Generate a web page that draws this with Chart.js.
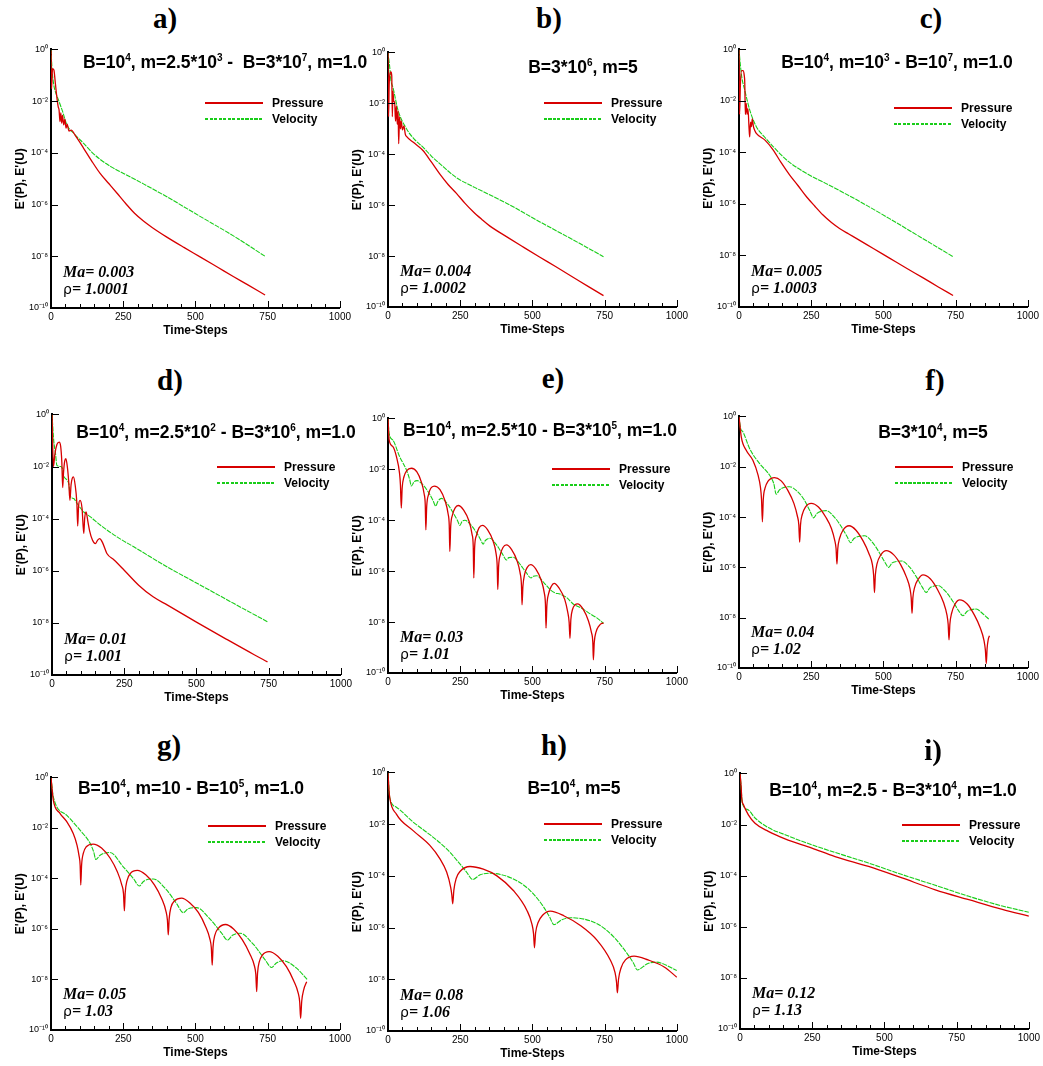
<!DOCTYPE html>
<html>
<head>
<meta charset="utf-8">
<script src="https://cdn.jsdelivr.net/npm/chart.js@4.4.1/dist/chart.umd.min.js"></script>
<style>
  body { margin: 0; background: #fff; width: 1043px; height: 1066px; position: relative; overflow: hidden;
         font-family: "Liberation Sans", Arial, sans-serif; color: #000; }
  canvas { position: absolute; }
  .lbl { position: absolute; font-family: "Liberation Serif", "Times New Roman", serif; font-weight: bold;
         font-size: 29px; transform: translate(-50%, -50%); white-space: nowrap; }
  .sub { position: absolute; font-weight: bold; font-size: 17.5px; white-space: nowrap; transform: translate(-50%, -50%); }
  .sub sup { font-size: 10px; vertical-align: 7px; line-height: 0; }
  .legline { position: absolute; width: 58px; }
  .legtxt { position: absolute; font-weight: bold; font-size: 12px; transform: translateY(-50%); white-space: nowrap; }
  .ma { position: absolute; font-family: "Liberation Serif", "Times New Roman", serif; font-weight: bold;
        font-style: italic; font-size: 16px; white-space: nowrap; transform: translateY(-50%); }
  .ma .rho { font-style: normal; font-weight: normal; font-family: "DejaVu Sans", sans-serif; font-size: 14px; }
</style>
</head>
<body>
<script>
// ================= DATA (time step, error) =================
const xTicks = [0, 250, 500, 750, 1000];
const yTicks = [1, 1e-2, 1e-4, 1e-6, 1e-8, 1e-10];

const presA = [[0,0.9],[2,3e-2],[5,0.18],[10,0.16],[15,5e-2],[20,1.5e-2],[25,6e-3],[28,4.5e-3],[31,1.6e-3],[34,3.5e-3],[37,1.4e-3],[40,2.8e-3],[44,1.2e-3],[48,2e-3],[52,9e-4],[56,1.3e-3],[62,7e-4],[70,7.5e-4],[85,4.5e-4],[113,1.5e-4],[140,5e-5],[170,1.6e-5],[200,6.5e-6],[228,2.8e-6],[260,1.05e-6],[290,4.5e-7],[320,2.3e-7],[350,1.3e-7],[401,5.5e-8],[460,2.2e-8],[516,9.5e-9],[580,3.6e-9],[631,1.66e-9],[680,8e-10],[741,3.2e-10]];
const veloA = [[0,1],[4,0.15],[10,4e-2],[17,2e-2],[26,1.1e-2],[40,4e-3],[55,1.2e-3],[80,5.5e-4],[113,2.3e-4],[140,1.1e-4],[170,5.6e-5],[210,2.8e-5],[251,1.6e-5],[320,6.3e-6],[401,2e-6],[516,3.5e-7],[630,6.3e-8],[741,1e-8]];

const presB = [[0,1],[2,3e-3],[4,5e-2],[7,0.15],[10,0.17],[13,0.12],[15,3e-3],[17,3e-2],[20,1.2e-2],[23,1.1e-2],[26,2e-3],[29,8e-3],[32,1.5e-3],[35,5e-3],[37,2.6e-4],[40,3e-3],[43,1e-3],[46,2e-3],[50,9e-4],[55,1.3e-3],[60,6e-4],[64,5e-4],[90,2.8e-4],[121,1.4e-4],[150,5e-5],[179,1.7e-5],[208,6.5e-6],[237,2.9e-6],[266,1.2e-6],[295,5.5e-7],[324,2.8e-7],[353,1.5e-7],[410,5.8e-8],[470,2.2e-8],[526,9e-9],[580,3.9e-9],[642,1.45e-9],[694,6.3e-10],[720,4.2e-10],[746,2.8e-10]];
const veloB = [[0,1],[6,0.26],[10,8e-2],[17,4.3e-2],[35,5.2e-3],[64,1e-3],[90,4e-4],[121,1.9e-4],[150,8.5e-5],[179,4.3e-5],[237,1.2e-5],[300,5e-6],[410,1.2e-6],[526,2.2e-7],[640,4.4e-8],[746,9.5e-9]];

const presC = [[0,1],[2,3e-3],[5,5e-2],[9,0.15],[14,0.15],[18,0.1],[20,5e-2],[22,3e-3],[25,8e-3],[28,3e-3],[31,5e-3],[35,8e-4],[37,4e-4],[40,1.5e-3],[43,1e-3],[46,2e-3],[50,1e-3],[55,7e-4],[60,5.5e-4],[90,3e-4],[118,1.26e-4],[146,4e-5],[175,1.35e-5],[204,5.2e-6],[233,1.95e-6],[262,8.3e-7],[290,3.8e-7],[320,1.9e-7],[348,1.12e-7],[380,6.8e-8],[406,4.6e-8],[465,1.86e-8],[521,7.9e-9],[580,3.2e-9],[636,1.38e-9],[690,6e-10],[741,2.8e-10]];
const veloC = [[0,1],[4,0.3],[10,8e-2],[20,2.6e-2],[37,4.5e-3],[60,1e-3],[90,3.8e-4],[118,1.7e-4],[146,8e-5],[175,4.1e-5],[233,1.55e-5],[300,6.3e-6],[406,1.48e-6],[521,2.7e-7],[630,5e-8],[741,9e-9]];

const presD = [[0,1],[5,1e-2],[10,3e-2],[17,7e-2],[25,8.7e-2],[30,6e-2],[34,1.5e-2],[37,1.55e-3],[40,6e-3],[44,1.6e-2],[48,2e-2],[53,1e-2],[58,2.5e-3],[62,5e-4],[66,2e-3],[70,3.5e-3],[74,4e-3],[80,2e-3],[86,4e-4],[89,5.2e-5],[92,3e-4],[97,5e-4],[104,2.5e-4],[110,2.7e-5],[113,1e-4],[118,1.8e-4],[124,8e-5],[130,3.5e-5],[140,1.5e-5],[150,1.1e-5],[158,1.5e-5],[165,1.7e-5],[175,1.2e-5],[190,4.6e-6],[215,2.6e-6],[250,1.05e-6],[300,2.8e-7],[350,1e-7],[400,4.8e-8],[500,1.07e-8],[600,2.5e-9],[700,6e-10],[746,3.2e-10]];
const veloD = [[0,1],[6,0.1],[12,3.2e-2],[17,1.1e-2],[30,1e-2],[35,9e-3],[40,4.6e-3],[52,3e-3],[58,2.2e-3],[64,7e-4],[75,5.9e-4],[87,3.8e-4],[110,1.8e-4],[133,1.17e-4],[168,5.6e-5],[225,2e-5],[283,8.3e-6],[399,1.4e-6],[514,2.8e-7],[630,5.5e-8],[746,1.1e-8]];

const presE = [[0,1],[4,0.14],[17,7.8e-2],[29,3.2e-2],[40,6.9e-3],[43,2.5e-3],[46,3e-4],[49,1.8e-3],[55,5e-3],[65,8.9e-3],[81,1.1e-2],[100,7.9e-3],[115,3.3e-3],[125,1.1e-3],[129,4e-4],[131,4.2e-5],[134,3.5e-4],[140,1e-3],[148,1.8e-3],[160,2.2e-3],[180,1.6e-3],[198,5.6e-4],[208,1.8e-4],[212,6.3e-5],[214,5.9e-6],[217,5.6e-5],[223,1.6e-4],[232,3e-4],[243,3.8e-4],[262,2.5e-4],[281,8.9e-5],[291,2.8e-5],[295,1e-5],[297,5.4e-7],[300,8.9e-6],[306,2.5e-5],[315,5e-5],[327,6.3e-5],[345,4.2e-5],[364,1.5e-5],[374,5e-6],[378,1.6e-6],[380,1.9e-7],[383,1.6e-6],[389,4.5e-6],[398,8.5e-6],[410,1.07e-5],[428,7e-6],[447,2.5e-6],[457,8.9e-7],[462,2.8e-7],[464,4.8e-8],[467,2.5e-7],[473,7.6e-7],[482,1.4e-6],[494,1.8e-6],[512,1.2e-6],[531,4.2e-7],[541,1.4e-7],[545,5e-8],[547,5.8e-9],[550,4.5e-8],[556,1.3e-7],[565,2.5e-7],[575,3.3e-7],[593,2.1e-7],[612,7.6e-8],[622,2.5e-8],[627,1e-8],[630,2.3e-9],[633,1.26e-8],[639,3.2e-8],[647,4.7e-8],[656,5.2e-8],[675,3.3e-8],[694,1.1e-8],[704,4e-9],[709,1.6e-9],[711,3.3e-10],[714,1.6e-9],[720,4e-9],[730,7e-9],[740,8.9e-9],[746,9e-9]];
const veloE = [[0,1],[4,0.25],[17,0.14],[40,3.2e-2],[64,9.3e-3],[75,4e-3],[81,2.2e-3],[90,3.2e-3],[101,3.6e-3],[120,2.5e-3],[140,1.26e-3],[155,6.3e-4],[165,3.6e-4],[173,5.6e-4],[185,7.2e-4],[205,4.5e-4],[225,2e-4],[240,1e-4],[249,6.3e-5],[256,8.9e-5],[266,1e-4],[288,6.3e-5],[310,2.8e-5],[322,1.6e-5],[329,1.15e-5],[337,1.6e-5],[353,1.95e-5],[375,1.1e-5],[395,5e-6],[410,2.75e-6],[418,3.4e-6],[434,3.5e-6],[455,2e-6],[478,8.9e-7],[495,5.4e-7],[503,6.3e-7],[514,6.6e-7],[540,3.5e-7],[563,1.8e-7],[578,1.4e-7],[595,1.26e-7],[620,8.9e-8],[642,5e-8],[660,4e-8],[676,3.2e-8],[700,2.1e-8],[725,1.4e-8],[746,9e-9]];

const presF = [[0,1],[8,0.15],[25,4.5e-2],[48,1.8e-2],[66,4.6e-3],[74,1.6e-3],[78,5e-4],[81,6.5e-5],[84,5e-4],[90,1.4e-3],[100,2.6e-3],[123,3.7e-3],[145,2.8e-3],[170,1.1e-3],[190,3.5e-4],[202,1.1e-4],[207,5e-5],[210,1e-5],[213,5e-5],[219,1.26e-4],[230,2.5e-4],[250,3.5e-4],[275,2.5e-4],[300,1e-4],[320,3.5e-5],[332,1.1e-5],[336,5.6e-6],[339,1.35e-6],[342,5.6e-6],[348,1.4e-5],[360,3e-5],[381,4.5e-5],[405,3e-5],[430,1.1e-5],[450,3.5e-6],[462,1.26e-6],[466,5e-7],[469,1e-7],[472,5e-7],[478,1.4e-6],[490,3e-6],[510,4.6e-6],[535,3.2e-6],[560,1.26e-6],[580,4e-7],[592,1.4e-7],[596,6.3e-8],[599,1.5e-8],[602,6.3e-8],[608,1.6e-7],[620,3.3e-7],[637,5e-7],[662,3.5e-7],[688,1.26e-7],[708,4e-8],[720,1.26e-8],[724,5.6e-9],[727,1.3e-9],[730,5.6e-9],[736,1.5e-8],[748,3.5e-8],[764,5.1e-8],[790,3.5e-8],[815,1.26e-8],[835,4e-9],[848,1.26e-9],[853,5e-10],[856,1.5e-10],[859,6.3e-10],[863,1.4e-9],[867,1.9e-9]];
const veloF = [[0,1],[5,0.35],[14,0.24],[37,5.2e-2],[72,1.3e-2],[106,4.6e-3],[120,2.2e-3],[129,8.1e-4],[140,1.2e-3],[155,1.5e-3],[175,1.6e-3],[200,1.1e-3],[225,5e-4],[245,1.8e-4],[258,9.3e-5],[270,1.4e-4],[285,1.7e-4],[302,1.8e-4],[330,1e-4],[355,4e-5],[375,1.6e-5],[386,9.5e-6],[398,1.4e-5],[415,1.7e-5],[435,1.8e-5],[460,1.05e-5],[485,4e-6],[505,1.6e-6],[518,1e-6],[530,1.5e-6],[545,1.7e-6],[562,1.8e-6],[590,1.05e-6],[615,4e-7],[635,1.6e-7],[648,1e-7],[660,1.5e-7],[675,1.8e-7],[689,1.9e-7],[715,1.1e-7],[740,4.5e-8],[760,1.9e-8],[775,1.2e-8],[790,1.8e-8],[805,2.1e-8],[821,2.2e-8],[845,1.4e-8],[867,8.3e-9]];

const presG = [[0,1],[8,0.126],[31,3.8e-2],[54,1.8e-2],[77,6e-3],[90,2.1e-3],[97,8e-4],[101,3.2e-4],[103,5.5e-5],[106,3.5e-4],[112,1e-3],[122,1.8e-3],[146,2.3e-3],[175,1.6e-3],[205,6.3e-4],[230,1.8e-4],[245,5.6e-5],[251,2.5e-5],[254,5.2e-6],[257,2.8e-5],[263,8e-5],[275,1.6e-4],[299,2.1e-4],[328,1.4e-4],[358,5.6e-5],[383,1.6e-5],[398,5e-6],[403,2.2e-6],[406,5.8e-7],[409,2.5e-6],[415,7e-6],[427,1.26e-5],[452,1.66e-5],[480,1.1e-5],[510,4.5e-6],[535,1.26e-6],[550,4e-7],[555,1.8e-7],[558,3.7e-8],[561,2e-7],[567,5.6e-7],[579,1.05e-6],[604,1.5e-6],[632,1e-6],[662,3.8e-7],[688,1.05e-7],[704,3.5e-8],[709,1.6e-8],[712,3.3e-9],[715,1.8e-8],[721,5e-8],[732,9.3e-8],[755,1.26e-7],[785,8.3e-8],[815,3.2e-8],[840,8.9e-9],[856,2.8e-9],[861,1.26e-9],[864,2.9e-10],[868,1.4e-9],[875,4e-9],[885,8.1e-9]];
const veloG = [[0,1],[8,0.17],[54,3.2e-2],[100,8.3e-3],[135,2.5e-3],[148,1.1e-3],[155,5.6e-4],[170,8.3e-4],[204,1.07e-3],[250,2.9e-4],[285,1e-4],[306,5e-5],[320,7.6e-5],[354,9.5e-5],[400,3.5e-5],[435,1e-5],[458,4.4e-6],[475,6.3e-6],[504,7e-6],[550,2.5e-6],[590,7e-7],[611,3.6e-7],[628,5.6e-7],[654,6.8e-7],[700,2.5e-7],[740,6.3e-8],[764,3e-8],[780,4.5e-8],[804,5.5e-8],[850,2.8e-8],[887,1e-8]];

const presH = [[0,1],[3,0.25],[6,0.107],[29,2.45e-2],[87,5.6e-3],[145,1.5e-3],[180,4.5e-4],[203,1.4e-4],[217,3.6e-5],[221,1.8e-5],[224,8.3e-6],[228,2.8e-5],[236,7.9e-5],[250,1.5e-4],[284,2.3e-4],[330,1.8e-4],[377,1e-4],[434,2.7e-5],[481,4.6e-6],[498,1.4e-6],[504,5.6e-7],[507,1.66e-7],[511,6.3e-7],[520,1.6e-6],[535,3e-6],[562,4.3e-6],[610,2.8e-6],[666,1.2e-6],[724,3.2e-7],[770,5.4e-8],[786,1.8e-8],[791,7.9e-9],[794,3e-9],[798,1e-8],[807,2.8e-8],[822,5.6e-8],[852,7.9e-8],[900,5.6e-8],[956,3e-8],[1000,1.2e-8]];
const veloH = [[0,1],[6,0.107],[29,4.5e-2],[87,1.2e-2],[145,3.9e-3],[203,1.1e-3],[249,2.9e-4],[272,1.4e-4],[293,7.2e-5],[319,1.1e-4],[353,1.26e-4],[434,7.6e-5],[492,2.7e-5],[539,6.2e-6],[560,2.5e-6],[574,1.3e-6],[602,2e-6],[631,2.4e-6],[724,1.4e-6],[782,4.3e-7],[828,9.8e-8],[850,4.2e-8],[863,2.3e-8],[898,4e-8],[927,4.6e-8],[1000,2.2e-8]];

const presI = [[0,1],[4,0.3],[6,0.107],[12,5.9e-2],[29,2.4e-2],[52,1.12e-2],[98,5.4e-3],[156,2.75e-3],[249,1.2e-3],[329,5.6e-4],[445,2.3e-4],[561,8.1e-5],[676,2.8e-5],[792,1.15e-5],[908,4.8e-6],[1000,2.6e-6]];
const veloI = [[0,1],[3,0.4],[6,0.12],[8,6.8e-2],[29,3.7e-2],[52,1.8e-2],[98,7.6e-3],[156,4e-3],[249,1.6e-3],[329,8.1e-4],[445,3.1e-4],[561,1.1e-4],[676,4.2e-5],[792,1.55e-5],[908,6.5e-6],[1000,3.7e-6]];

const panelLetters = ['a)', 'b)', 'c)', 'd)', 'e)', 'f)', 'g)', 'h)', 'i)'];
const subtitles = [
  'B=10<sup>4</sup>, m=2.5*10<sup>3</sup> -&nbsp; B=3*10<sup>7</sup>, m=1.0',
  'B=3*10<sup>6</sup>, m=5',
  'B=10<sup>4</sup>, m=10<sup>3</sup> - B=10<sup>7</sup>, m=1.0',
  'B=10<sup>4</sup>, m=2.5*10<sup>2</sup> - B=3*10<sup>6</sup>, m=1.0',
  'B=10<sup>4</sup>, m=2.5*10 - B=3*10<sup>5</sup>, m=1.0',
  'B=3*10<sup>4</sup>, m=5',
  'B=10<sup>4</sup>, m=10 - B=10<sup>5</sup>, m=1.0',
  'B=10<sup>4</sup>, m=5',
  'B=10<sup>4</sup>, m=2.5 - B=3*10<sup>4</sup>, m=1.0'
];
const machNumbers = ['0.003', '0.004', '0.005', '0.01', '0.03', '0.04', '0.05', '0.08', '0.12'];
const densityRatios = ['1.0001', '1.0002', '1.0003', '1.001', '1.01', '1.02', '1.03', '1.06', '1.13'];
const seriesNames = ['Pressure', 'Velocity'];

// ================= LAYOUT =================
// L/T/B = plot area left, top (10^0) and bottom (10^-10) in page pixels
const layout = [
  { pres: presA, velo: veloA, L: 51,  T: 49,  B: 308,  lab: [165, 18],  sub: [225, 62],  leg: [154, 54] },
  { pres: presB, velo: veloB, L: 388, T: 52,  B: 307,  lab: [549, 18],  sub: [583, 67],  leg: [156, 51] },
  { pres: presC, velo: veloC, L: 739, T: 49,  B: 307,  lab: [931, 18],  sub: [897, 62],  leg: [155, 59] },
  { pres: presD, velo: veloD, L: 52,  T: 414, B: 675,  lab: [170, 380], sub: [216, 432], leg: [165, 53] },
  { pres: presE, velo: veloE, L: 388, T: 418, B: 673,  lab: [553, 378], sub: [540, 430], leg: [164, 51] },
  { pres: presF, velo: veloF, L: 739, T: 416, B: 668,  lab: [935, 380], sub: [933, 432], leg: [156, 51] },
  { pres: presG, velo: veloG, L: 51,  T: 777, B: 1030, lab: [169, 745], sub: [191, 788], leg: [157, 49] },
  { pres: presH, velo: veloH, L: 388, T: 772, B: 1031, lab: [554, 745], sub: [574, 788], leg: [156, 52] },
  { pres: presI, velo: veloI, L: 740, T: 773, B: 1029, lab: [933, 750], sub: [893, 790], leg: [162, 52] }
];

const FONT = "'Liberation Sans', Arial, sans-serif";
const RED = 'rgb(215,0,0)';
const GREEN = 'rgb(25,205,25)';
const PLOT_W = 289;
const PAD_LEFT = 38, PAD_TOP = 8, PAD_RIGHT = 14, PAD_BOTTOM = 30;

const SUP = { '-': '\u207B', '0': '\u2070', '1': '\u00B9', '2': '\u00B2', '3': '\u00B3', '4': '\u2074',
              '5': '\u2075', '6': '\u2076', '7': '\u2077', '8': '\u2078', '9': '\u2079' };
function powLabel(v) {
  const e = String(Math.round(Math.log10(v)));
  return '10' + e.split('').map(c => SUP[c]).join('');
}
const toXY = arr => arr.map(([x, y]) => ({ x: x, y: y }));

// inward tick marks, Tecplot style
const innerTicks = {
  id: 'innerTicks',
  afterDraw(chart) {
    const { ctx, scales: { x, y }, chartArea: a } = chart;
    ctx.save();
    ctx.strokeStyle = '#000';
    ctx.lineWidth = 1;
    ctx.beginPath();
    for (let v = 0; v <= 1000; v += 50) {
      const px = Math.round(x.getPixelForValue(v)) + 0.5;
      const len = xTicks.includes(v) ? 7 : 4;
      ctx.moveTo(px, a.bottom);
      ctx.lineTo(px, a.bottom - len);
    }
    yTicks.forEach(v => {
      const py = Math.round(y.getPixelForValue(v)) + 0.5;
      ctx.moveTo(a.left, py);
      ctx.lineTo(a.left + 7, py);
    });
    ctx.stroke();
    ctx.restore();
  }
};

function addDiv(cls, html, css) {
  const d = document.createElement('div');
  d.className = cls;
  d.innerHTML = html;
  Object.assign(d.style, css);
  document.body.appendChild(d);
  return d;
}

// ================= CHARTS =================
layout.forEach((p, i) => {
  const h = p.B - p.T;
  const cv = document.createElement('canvas');
  cv.width = PAD_LEFT + PLOT_W + PAD_RIGHT;
  cv.height = PAD_TOP + h + PAD_BOTTOM;
  cv.style.left = (p.L - PAD_LEFT) + 'px';
  cv.style.top = (p.T - PAD_TOP) + 'px';
  document.body.appendChild(cv);

  new Chart(cv.getContext('2d'), {
    type: 'line',
    data: {
      datasets: [
        { label: seriesNames[0], data: toXY(p.pres), borderColor: RED, borderWidth: 1.3,
          pointRadius: 0, fill: false, cubicInterpolationMode: 'monotone' },
        { label: seriesNames[1], data: toXY(p.velo), borderColor: GREEN, borderWidth: 1.1, borderDash: [5, 1],
          pointRadius: 0, fill: false, cubicInterpolationMode: 'monotone' }
      ]
    },
    options: {
      responsive: false,
      animation: false,
      devicePixelRatio: 1,
      layout: { padding: { top: PAD_TOP, right: PAD_RIGHT, left: 0, bottom: 0 } },
      plugins: { legend: { display: false }, tooltip: { enabled: false } },
      scales: {
        x: {
          type: 'linear', min: 0, max: 1000,
          afterBuildTicks: s => { s.ticks = xTicks.map(v => ({ value: v })); },
          afterFit: s => { s.height = PAD_BOTTOM; },
          grid: { display: false, drawTicks: false },
          border: { display: true, color: '#000', width: 2 },
          ticks: { callback: v => String(v), font: { size: 10, family: FONT }, color: '#000', padding: 3,
                   maxRotation: 0, autoSkip: false },
          title: { display: true, text: 'Time-Steps', color: '#000', padding: 0,
                   font: { size: 12, weight: 'bold', family: FONT } }
        },
        y: {
          type: 'logarithmic', min: 1e-10, max: 1,
          afterBuildTicks: s => { s.ticks = yTicks.map(v => ({ value: v })); },
          afterFit: s => { s.width = PAD_LEFT; },
          grid: { display: false, drawTicks: false },
          border: { display: true, color: '#000', width: 2 },
          ticks: { callback: v => powLabel(v), font: { size: 9, family: FONT }, color: '#000', padding: 3 },
          title: { display: true, text: "E'(P), E'(U)", color: '#000', padding: 0,
                   font: { size: 12, weight: 'bold', family: FONT } }
        }
      }
    },
    plugins: [innerTicks]
  });

  // panel letter and case description
  addDiv('lbl', panelLetters[i], { left: p.lab[0] + 'px', top: p.lab[1] + 'px' });
  addDiv('sub', subtitles[i], { left: p.sub[0] + 'px', top: p.sub[1] + 'px' });

  // legend inside the plot
  const lx = p.L + p.leg[0], ly = p.T + p.leg[1];
  addDiv('legline', '', { left: lx + 'px', top: (ly - 1) + 'px', height: '1.5px', background: RED });
  addDiv('legline', '', { left: lx + 'px', top: (ly + 16 - 1) + 'px', height: '1.5px',
    background: 'repeating-linear-gradient(to right, ' + GREEN + ' 0 3px, transparent 3px 4.5px)' });
  addDiv('legtxt', seriesNames[0], { left: (lx + 67) + 'px', top: ly + 'px' });
  addDiv('legtxt', seriesNames[1], { left: (lx + 67) + 'px', top: (ly + 16) + 'px' });

  // Mach number and density ratio
  addDiv('ma', 'Ma= ' + machNumbers[i], { left: (p.L + 12) + 'px', top: (p.B - 36) + 'px' });
  addDiv('ma', '<span class="rho">\u03C1</span>= ' + densityRatios[i], { left: (p.L + 12) + 'px', top: (p.B - 19) + 'px' });
});
</script>
</body>
</html>
